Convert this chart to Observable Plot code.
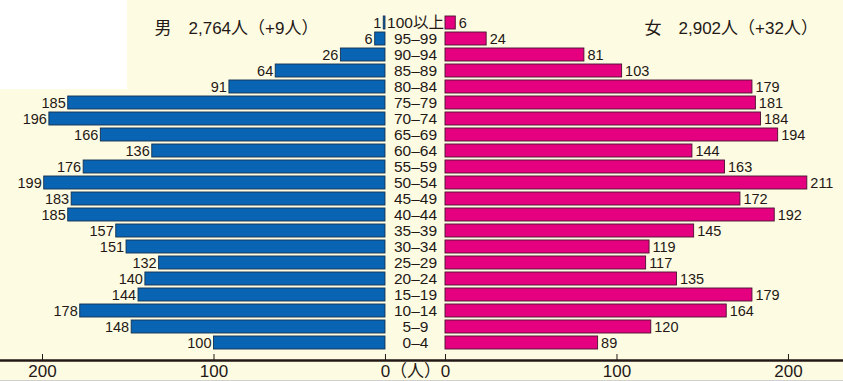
<!DOCTYPE html>
<html><head><meta charset="utf-8">
<script src="https://cdn.jsdelivr.net/npm/d3@7"></script>
<script src="https://cdn.jsdelivr.net/npm/@observablehq/plot@0.6"></script>
<style>
body{margin:0;background:#fff;}
#wrap{position:relative;width:843px;height:380px;background:#fefbe3;border-bottom:1px solid #cfcfcf;overflow:hidden;}
#corner{position:absolute;left:0;top:0;width:127px;height:89px;background:#fff;}
#chart{position:absolute;left:0;top:0;}
</style></head><body>
<div id="wrap"><div id="corner"></div><div id="chart"></div></div>
<script>
const ages = ["100以上","95–99","90–94","85–89","80–84","75–79","70–74","65–69","60–64","55–59","50–54","45–49","40–44","35–39","30–34","25–29","20–24","15–19","10–14","5–9","0–4"];
const male = [1,6,26,64,91,185,196,166,136,176,199,183,185,157,151,132,140,144,178,148,100];
const female = [6,24,81,103,179,181,184,194,144,163,211,172,192,145,119,117,135,179,164,120,89];
const maleTitle = "男　2,764人（+9人）";
const femaleTitle = "女　2,902人（+32人）";
const axisValues = [0,100,200];
const unitLabel = "（人）";

const G = 35; // gap between the two halves, in value units
const data = ages.map((age,i)=>({age, male: male[i], female: female[i]}));
const tickPos = [...axisValues.map(v=>-v), ...axisValues.map(v=>G+v)];
const labelPos = [...tickPos, G/2];
const fmt = u => u === G/2 ? unitLabel : String(u <= 0 ? Math.abs(u) : u - G);
const font = '"Liberation Sans","Noto Sans CJK JP",sans-serif';
const ink = "#231815";

const plot = Plot.plot({
  width: 843, height: 380,
  marginTop: 11, marginBottom: 20, marginLeft: 0, marginRight: 0, insetBottom: 6,
  style: {background: "transparent", fontFamily: font, color: ink, overflow: "visible"},
  x: {domain: [-224.5, 267.1], axis: null},
  y: {domain: ages, padding: 0.2, axis: null},
  marks: [
    Plot.barX(data, {y: "age", x1: 0, x2: d => -d.male, fill: "#0a64b4", stroke: "#14304f", strokeWidth: 0.9}),
    Plot.barX(data, {y: "age", x1: G, x2: d => G + d.female, fill: "#e4007f", stroke: "#4a1030", strokeWidth: 0.9}),
    Plot.text(data, {y: "age", x: d => -d.male, text: d => String(d.male), textAnchor: "end", dx: -2.5, fontSize: 14.5, fill: ink}),
    Plot.text(data, {y: "age", x: d => G + d.female, text: d => String(d.female), textAnchor: "start", dx: 3, fontSize: 14.5, fill: ink}),
    Plot.text(data, {y: "age", x: G/2, text: "age", fontSize: 15.5, fill: ink}),
    Plot.frame({anchor: "bottom", stroke: ink, strokeWidth: 2.5}),
    Plot.axisX({ticks: tickPos, tickSize: -6, tickFormat: () => "", stroke: ink, strokeWidth: 1}),
    Plot.axisX({ticks: labelPos, tickSize: 0, tickPadding: 4, tickFormat: fmt, fontSize: 17, fill: ink}),
    Plot.text([maleTitle], {frameAnchor: "top-left", dx: 154, dy: 10, textAnchor: "start", fontSize: 17, fill: ink}),
    Plot.text([femaleTitle], {frameAnchor: "top-left", dx: 644, dy: 10, textAnchor: "start", fontSize: 17, fill: ink})
  ]
});
document.getElementById("chart").appendChild(plot);
</script>
</body></html>
